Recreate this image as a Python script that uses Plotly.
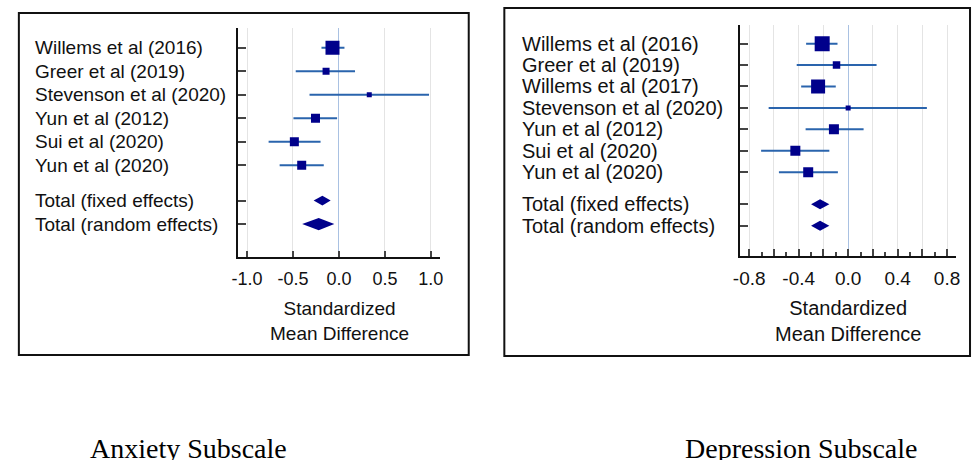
import plotly.graph_objects as go

# ---------------- data ----------------
anx_studies = ["Willems et al (2016)", "Greer et al (2019)", "Stevenson et al (2020)",
               "Yun et al (2012)", "Sui et al (2020)", "Yun et al (2020)"]
anx_smd = [-0.07, -0.14, 0.33, -0.255, -0.485, -0.405]
anx_lo = [-0.19, -0.47, -0.32, -0.495, -0.765, -0.645]
anx_hi = [0.06, 0.175, 0.98, -0.02, -0.20, -0.165]
anx_total_labels = ["Total (fixed effects)", "Total (random effects)"]
anx_total_smd = [-0.18, -0.22]
anx_total_lo = [-0.275, -0.40]
anx_total_hi = [-0.09, -0.05]

dep_studies = ["Willems et al (2016)", "Greer et al (2019)", "Willems et al (2017)",
               "Stevenson et al (2020)", "Yun et al (2012)", "Sui et al (2020)", "Yun et al (2020)"]
dep_smd = [-0.21, -0.094, -0.243, 0.0, -0.115, -0.427, -0.323]
dep_lo = [-0.34, -0.416, -0.38, -0.643, -0.344, -0.704, -0.56]
dep_hi = [-0.086, 0.23, -0.10, 0.637, 0.125, -0.152, -0.083]
dep_total_labels = ["Total (fixed effects)", "Total (random effects)"]
dep_total_smd = [-0.227, -0.227]
dep_total_lo = [-0.30, -0.30]
dep_total_hi = [-0.152, -0.152]

anx_ticks = [-1.0, -0.5, 0.0, 0.5, 1.0]
anx_ticktext = ["-1.0", "-0.5", "0.0", "0.5", "1.0"]
dep_ticks = [-0.8, -0.6, -0.4, -0.2, 0.0, 0.2, 0.4, 0.6, 0.8]
dep_ticktext = ["-0.8", "", "-0.4", "", "0.0", "", "0.4", "", "0.8"]

panel_titles = ["Anxiety Subscale", "Depression Subscale"]
axis_title = "Standardized<br>Mean Difference"

# ---------------- styles ----------------
W, H = 976, 460
NAVY = "#00008b"
CI_COL = "#2a64ad"
GRID = "#e4e4e4"
ZERO = "#a9c1e2"
TXT = "#111111"
SANS = "Liberation Sans, Arial, sans-serif"
SERIF = "Liberation Serif, Times New Roman, serif"

anx_msize = [14, 7, 5, 9, 9, 9]
dep_msize = [15, 7.5, 14, 5, 10, 10, 10]
anx_diamond_half = [0.21, 0.26]
dep_diamond_half = [0.23, 0.23]


def px(x):
    return x / W


def py(y):
    return 1 - y / H


fig = go.Figure()


def add_panel(xa, ya, studies, smd, lo, hi, msize, tl, tsmd, tlo, thi, half):
    n = len(studies)
    rows = list(range(n))
    cx, cy = [], []
    for r, l, h in zip(rows, lo, hi):
        cx += [l, h, None]
        cy += [r, r, None]
    fig.add_trace(go.Scatter(
        x=cx, y=cy, mode="lines", xaxis=xa, yaxis=ya,
        line=dict(color=CI_COL, width=2), showlegend=False, hoverinfo="skip"))
    fig.add_trace(go.Scatter(
        x=smd, y=rows, mode="markers", xaxis=xa, yaxis=ya,
        marker=dict(symbol="square", size=msize, color=NAVY, opacity=1, line=dict(width=0)),
        showlegend=False, hoverinfo="skip"))
    for k, (m, l, h) in enumerate(zip(tsmd, tlo, thi)):
        r = n + 0.5 + k
        d = half[k]
        fig.add_trace(go.Scatter(
            x=[l, m, h, m, l], y=[r, r - d, r, r + d, r],
            mode="lines", fill="toself", fillcolor=NAVY,
            line=dict(width=0, color=NAVY), xaxis=xa, yaxis=ya,
            showlegend=False, hoverinfo="skip"))
    return rows + [n + 0.5 + k for k in range(len(tl))]


anx_rows = add_panel("x", "y", anx_studies, anx_smd, anx_lo, anx_hi, anx_msize,
                     anx_total_labels, anx_total_smd, anx_total_lo, anx_total_hi, anx_diamond_half)
dep_rows = add_panel("x2", "y2", dep_studies, dep_smd, dep_lo, dep_hi, dep_msize,
                     dep_total_labels, dep_total_smd, dep_total_lo, dep_total_hi, dep_diamond_half)

annotations = []
for lab, r in zip(anx_studies + anx_total_labels, anx_rows):
    annotations.append(dict(text=lab, x=px(26), xref="paper", y=r, yref="y",
                            xanchor="left", yanchor="middle", showarrow=False,
                            font=dict(family=SANS, size=19, color=TXT)))
for lab, r in zip(dep_studies + dep_total_labels, dep_rows):
    annotations.append(dict(text=lab, x=px(519), xref="paper", y=r, yref="y2",
                            xanchor="left", yanchor="middle", showarrow=False,
                            font=dict(family=SANS, size=20, color=TXT)))
annotations.append(dict(text=axis_title, x=px(336), y=py(320.5), xref="paper", yref="paper",
                        xanchor="center", yanchor="middle", showarrow=False,
                        font=dict(family=SANS, size=19, color=TXT)))
annotations.append(dict(text=axis_title, x=px(851), y=py(320.5), xref="paper", yref="paper",
                        xanchor="center", yanchor="middle", showarrow=False,
                        font=dict(family=SANS, size=20, color=TXT)))
annotations.append(dict(text=panel_titles[0], x=px(184), y=py(448), xref="paper", yref="paper",
                        xanchor="center", yanchor="middle", showarrow=False,
                        font=dict(family=SERIF, size=28, color="#000000")))
annotations.append(dict(text=panel_titles[1], x=px(804), y=py(448), xref="paper", yref="paper",
                        xanchor="center", yanchor="middle", showarrow=False,
                        font=dict(family=SERIF, size=28, color="#000000")))

shapes = [
    dict(type="rect", xref="paper", yref="paper", x0=px(12), x1=px(467), y0=py(355), y1=py(13),
         line=dict(color="#111111", width=2)),
    dict(type="rect", xref="paper", yref="paper", x0=px(503), x1=px(974), y0=py(356), y1=py(8),
         line=dict(color="#111111", width=2)),
]

common_x = dict(showline=True, linecolor="#111111", linewidth=2, ticks="inside",
                tickcolor="#444444", tickwidth=1.5, showgrid=True, gridcolor=GRID, gridwidth=1,
                zeroline=True, zerolinecolor=ZERO, zerolinewidth=1.2, mirror=False,
                ticklabelstandoff=4, fixedrange=True)
common_y = dict(showline=True, linecolor="#111111", linewidth=2, ticks="inside",
                tickcolor="#444444", tickwidth=1.5, ticklen=8, showgrid=False, zeroline=False,
                showticklabels=False, fixedrange=True)

fig.update_layout(
    width=W, height=H, margin=dict(l=0, r=0, t=0, b=0),
    paper_bgcolor="white", plot_bgcolor="white",
    xaxis=dict(domain=[px(234), px(438)], range=[-1.094, 1.10], anchor="y",
               tickvals=anx_ticks, ticktext=anx_ticktext, ticklen=6,
               tickfont=dict(family=SANS, size=18, color=TXT), **common_x),
    yaxis=dict(domain=[py(257), py(28)], range=[8.9, -0.84], anchor="x",
               tickvals=anx_rows, **common_y),
    xaxis2=dict(domain=[px(741.7), px(960)], range=[-0.872, 0.874], anchor="y2",
                tickvals=dep_ticks, ticktext=dep_ticktext, ticklen=7,
                minor=dict(dtick=0.1, tick0=0, ticks="inside", ticklen=4, tickcolor="#444444",
                           showgrid=False),
                tickfont=dict(family=SANS, size=19, color=TXT), **common_x),
    yaxis2=dict(domain=[py(255.7), py(25)], range=[9.9, -0.87], anchor="x2",
                tickvals=dep_rows, **common_y),
    annotations=annotations, shapes=shapes,
)

fig.write_html("out.html", config={"displayModeBar": False},
               post_script="document.body.style.margin='0';document.body.style.overflow='hidden';")
